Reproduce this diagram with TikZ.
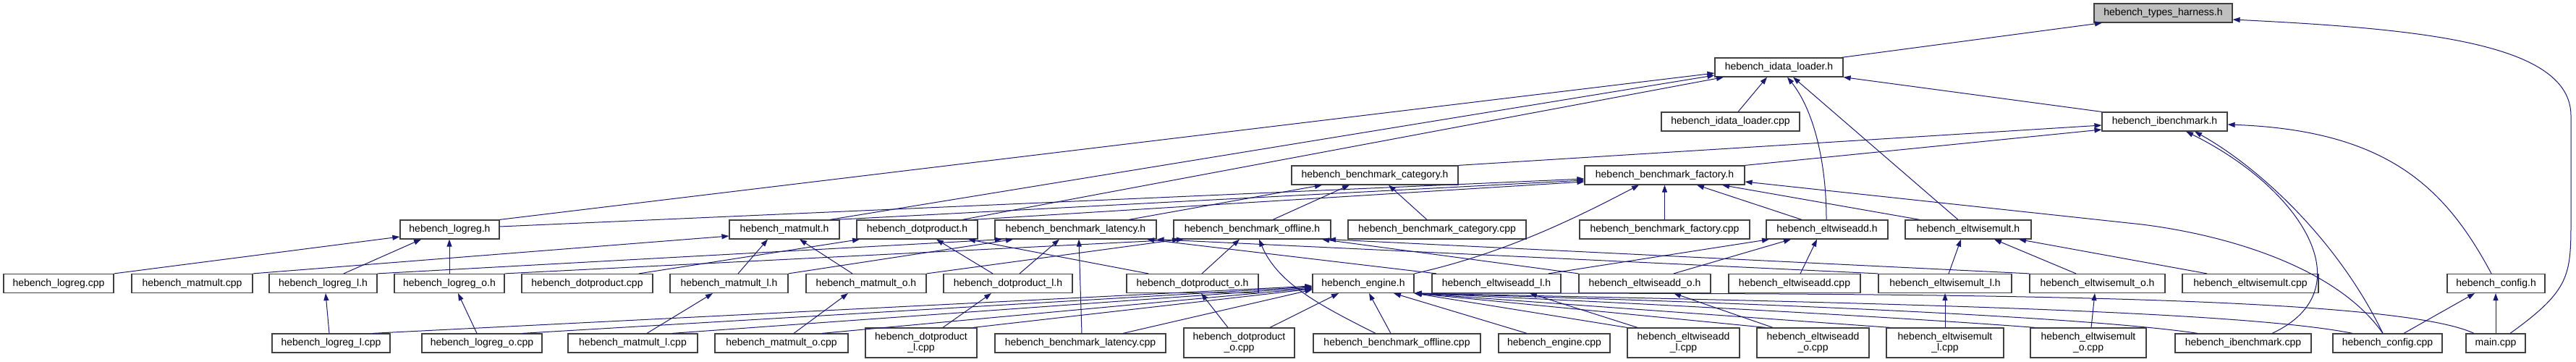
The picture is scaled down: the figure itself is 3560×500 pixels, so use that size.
\documentclass[tikz,border=0pt]{standalone}
\usepackage{fontspec}
\setmainfont{Liberation Sans}
\usetikzlibrary{arrows.meta}
\definecolor{edgeblue}{HTML}{191970}
\definecolor{rootgray}{HTML}{BFBFBF}
\begin{document}
\begin{tikzpicture}[x=1pt,y=-1pt,
  box/.style={draw=black!75,line width=1.2pt,fill=white,inner sep=0pt,minimum height=26pt,
    font=\fontsize{14}{15.5}\selectfont,text=black,align=center},
  box2/.style={box,minimum height=41pt},
  root/.style={box,fill=rootgray},
  edge/.style={draw=edgeblue,line width=1pt,-{Triangle[length=10pt,width=7pt]}}]
\fill[white] (0,0) rectangle (3560,500);
\useasboundingbox (0,0) rectangle (3560,500);
% row 0-3
\node[root,minimum width=191pt] (types) at (2989.5,18) {hebench\_types\_harness.h};
\node[box,minimum width=177pt] (idlh) at (2458.5,93) {hebench\_idata\_loader.h};
\node[box,minimum width=191pt] (idlcpp) at (2391.5,168) {hebench\_idata\_loader.cpp};
\node[box,minimum width=173pt] (ibmh) at (2991.5,168) {hebench\_ibenchmark.h};
\node[box,minimum width=230pt] (cath) at (1900,242) {hebench\_benchmark\_category.h};
\node[box,minimum width=221pt] (fach) at (2300.5,242) {hebench\_benchmark\_factory.h};
% row 4
\node[box,minimum width=137pt] (logregh) at (621.5,317) {hebench\_logreg.h};
\node[box,minimum width=152pt] (matmulth) at (1084,317) {hebench\_matmult.h};
\node[box,minimum width=167pt] (doth) at (1267.5,317) {hebench\_dotproduct.h};
\node[box,minimum width=223pt] (lath) at (1486.5,317) {hebench\_benchmark\_latency.h};
\node[box,minimum width=217pt] (offh) at (1730.5,317) {hebench\_benchmark\_offline.h};
\node[box,minimum width=246pt] (catcpp) at (1986,317) {hebench\_benchmark\_category.cpp};
\node[box,minimum width=235pt] (faccpp) at (2300.5,317) {hebench\_benchmark\_factory.cpp};
\node[box,minimum width=168pt] (eah) at (2525,317) {hebench\_eltwiseadd.h};
\node[box,minimum width=174pt] (emh) at (2720,317) {hebench\_eltwisemult.h};
% row 5
\node[box,minimum width=152pt] (logregcpp) at (81,391.5) {hebench\_logreg.cpp};
\node[box,minimum width=167pt] (matmultcpp) at (265.5,391.5) {hebench\_matmult.cpp};
\node[box,minimum width=149pt] (logreglh) at (446.5,391.5) {hebench\_logreg\_l.h};
\node[box,minimum width=152pt] (logregoh) at (621,391.5) {hebench\_logreg\_o.h};
\node[box,minimum width=181pt] (dotcpp) at (811.5,391.5) {hebench\_dotproduct.cpp};
\node[box,minimum width=163pt] (matmultlh) at (1007.5,391.5) {hebench\_matmult\_l.h};
\node[box,minimum width=166pt] (matmultoh) at (1197,391.5) {hebench\_matmult\_o.h};
\node[box,minimum width=178pt] (dotlh) at (1393,391.5) {hebench\_dotproduct\_l.h};
\node[box,minimum width=182pt] (dotoh) at (1648,391.5) {hebench\_dotproduct\_o.h};
\node[box,minimum width=140pt] (engh) at (1884,391.5) {hebench\_engine.h};
\node[box,minimum width=178pt] (ealh) at (2068,391.5) {hebench\_eltwiseadd\_l.h};
\node[box,minimum width=182pt] (eaoh) at (2273,391.5) {hebench\_eltwiseadd\_o.h};
\node[box,minimum width=182pt] (eacpp) at (2480,391.5) {hebench\_eltwiseadd.cpp};
\node[box,minimum width=184pt] (emlh) at (2688,391.5) {hebench\_eltwisemult\_l.h};
\node[box,minimum width=187pt] (emoh) at (2898.5,391.5) {hebench\_eltwisemult\_o.h};
\node[box,minimum width=188pt] (emcpp) at (3110,391.5) {hebench\_eltwisemult.cpp};
\node[box,minimum width=135pt] (configh) at (3449.5,391.5) {hebench\_config.h};
% row 6
\node[box,minimum width=163pt] (logreglcpp) at (457.5,474) {hebench\_logreg\_l.cpp};
\node[box,minimum width=166pt] (logregocpp) at (666,474) {hebench\_logreg\_o.cpp};
\node[box,minimum width=179pt] (matmultlcpp) at (874.5,474) {hebench\_matmult\_l.cpp};
\node[box,minimum width=184pt] (matmultocpp) at (1080,474) {hebench\_matmult\_o.cpp};
\node[box2,minimum width=154pt] (dotlcpp) at (1273,473.5) {hebench\_dotproduct\\\_l.cpp};
\node[box,minimum width=236pt] (latcpp) at (1493,474) {hebench\_benchmark\_latency.cpp};
\node[box2,minimum width=153pt] (dotocpp) at (1712.5,473.5) {hebench\_dotproduct\\\_o.cpp};
\node[box,minimum width=231pt] (offcpp) at (1930.5,474) {hebench\_benchmark\_offline.cpp};
\node[box,minimum width=154pt] (engcpp) at (2148,474) {hebench\_engine.cpp};
\node[box2,minimum width=155pt] (ealcpp) at (2326.5,473.5) {hebench\_eltwiseadd\\\_l.cpp};
\node[box2,minimum width=155pt] (eaocpp) at (2505.5,473.5) {hebench\_eltwiseadd\\\_o.cpp};
\node[box2,minimum width=162pt] (emlcpp) at (2688,473.5) {hebench\_eltwisemult\\\_l.cpp};
\node[box2,minimum width=160pt] (emocpp) at (2886,473.5) {hebench\_eltwisemult\\\_o.cpp};
\node[box,minimum width=188pt] (ibmcpp) at (3100,474) {hebench\_ibenchmark.cpp};
\node[box,minimum width=151pt] (configcpp) at (3299.5,474) {hebench\_config.cpp};
\node[box,minimum width=82pt] (maincpp) at (3449,474) {main.cpp};
% edges
\draw[edge] (idlh.north -| 2545,0) -- (types.south -| 2905,0);
\draw[edge] (maincpp.north -| 3469,0) .. controls (3553,400) and (3553,380) .. (3553,300) -- (3553,160) .. controls (3553,60) and (3350,40) .. (types.east |- 0,27);
\draw[edge] (idlcpp.north -| 2402,0) -- (idlh.south -| 2442,0);
\draw[edge] (ibmh.north west) -- (idlh.south east);
\draw[edge] (logregh.north east) -- (idlh.west |- 0,101);
\draw[edge] (matmulth.north -| 1147,0) -- (idlh.west |- 0,104);
\draw[edge] (doth.north -| 1330,0) -- (idlh.south -| 2382,0);
\draw[edge] (eah.north -| 2524,0) .. controls (2524,220) and (2505,150) .. (idlh.south -| 2470,0);
\draw[edge] (emh.north -| 2706,0) -- (idlh.south -| 2478,0);
\draw[edge] (fach.north east) -- (ibmh.west |- 0,179);
\draw[edge] (cath.north east) -- (ibmh.west |- 0,173);
\draw[edge] (faccpp.north) -- (fach.south);
\draw[edge] (engh.north east) .. controls (2080,350) and (2180,300) .. (fach.south -| 2265,0);
\draw[edge] (eah.north -| 2490,0) -- (fach.south -| 2345,0);
\draw[edge] (emh.north -| 2653,0) -- (fach.south -| 2380,0);
\draw[edge] (configcpp.north -| 3293,0) .. controls (3230,370) and (3080,325) .. (2960,310) -- (fach.east |- 0,251);
\draw[edge] (logregh.east |- 0,313) -- (fach.west |- 0,247);
\draw[edge] (matmulth.north -| 1155,0) -- (fach.west |- 0,249);
\draw[edge] (doth.north -| 1345,0) -- (fach.west |- 0,251);
\draw[edge] (lath.north -| 1560,0) -- (cath.south -| 1827,0);
\draw[edge] (offh.north -| 1759,0) -- (cath.south -| 1865,0);
\draw[edge] (catcpp.north -| 1972,0) -- (cath.south -| 1919,0);
\draw[edge] (configh.north -| 3443,0) .. controls (3380,260) and (3300,180) .. (ibmh.east |- 0,172);
\draw[edge] (ibmcpp.north -| 3140,0) .. controls (3270,400) and (3180,260) .. (ibmh.south -| 3021,0);
\draw[edge] (configcpp.north -| 3293,0) .. controls (3230,330) and (3120,230) .. (ibmh.south -| 3033,0);
\draw[edge] (configcpp.north -| 3322,0) -- (configh.south -| 3420,0);
\draw[edge] (maincpp.north -| 3449,0) -- (configh.south -| 3449,0);
\draw[edge] (maincpp.north -| 3419,0) .. controls (3300,405) and (2600,405) .. (engh.south east);
\draw[edge] (configcpp.north -| 3251,0) .. controls (3100,430) and (2600,418) .. (engh.south east);
\draw[edge] (ibmcpp.north -| 3037,0) .. controls (2900,440) and (2500,420) .. (engh.south east);
\draw[edge] (emocpp.north -| 2812,0) .. controls (2650,440) and (2300,420) .. (engh.south east);
\draw[edge] (emlcpp.north -| 2612,0) -- (engh.south east);
\draw[edge] (eaocpp.north -| 2440,0) -- (engh.south east);
\draw[edge] (ealcpp.north west) -- (engh.south east);
\draw[edge] (engcpp.north -| 2110,0) -- (engh.south -| 1926,0);
\draw[edge] (offcpp.north -| 1922,0) -- (engh.south -| 1892,0);
\draw[edge] (dotocpp.north -| 1755,0) -- (engh.south -| 1850,0);
\draw[edge] (latcpp.north -| 1552,0) -- (engh.west |- 0,400);
\draw[edge] (dotlcpp.north -| 1345,0) -- (engh.west |- 0,399);
\draw[edge] (matmultocpp.north -| 1136,0) -- (engh.west |- 0,398);
\draw[edge] (matmultlcpp.north -| 929,0) -- (engh.west |- 0,397);
\draw[edge] (logregocpp.north -| 722,0) -- (engh.west |- 0,396);
\draw[edge] (logreglcpp.north -| 515,0) -- (engh.west |- 0,395);
\draw[edge] (offcpp.north -| 1901,0) .. controls (1820,420) and (1765,390) .. (offh.south -| 1740,0);
\draw[edge] (dotoh.north -| 1661,0) -- (offh.south -| 1713,0);
\draw[edge] (dotoh.north -| 1587,0) -- (doth.south -| 1338,0);
\draw[edge] (dotlh.north -| 1372,0) -- (doth.south -| 1294,0);
\draw[edge] (dotlh.north -| 1409,0) -- (lath.south -| 1464,0);
\draw[edge] (latcpp.north -| 1495,0) -- (lath.south -| 1491,0);
\draw[edge] (logreglh.north east) -- (lath.south -| 1385,0);
\draw[edge] (matmultlh.north east) -- (lath.south -| 1400,0);
\draw[edge] (ealh.north -| 1985,0) -- (lath.south -| 1585,0);
\draw[edge] (emlh.north west) -- (lath.south east);
\draw[edge] (logregoh.north east) -- (offh.south -| 1636,0);
\draw[edge] (matmultoh.north east) -- (offh.south -| 1630,0);
\draw[edge] (eaoh.north west) -- (offh.south -| 1827,0);
\draw[edge] (emoh.north west) -- (offh.south -| 1836,0);
\draw[edge] (matmultlh.north -| 1020,0) -- (matmulth.south -| 1061,0);
\draw[edge] (matmultoh.north -| 1178,0) -- (matmulth.south -| 1105,0);
\draw[edge] (matmultcpp.north east) -- (matmulth.west |- 0,326);
\draw[edge] (logreglh.north -| 475,0) -- (logregh.south -| 582,0);
\draw[edge] (logregoh.north) -- (logregh.south -| 621,0);
\draw[edge] (logregcpp.north east) -- (logregh.west |- 0,327);
\draw[edge] (dotcpp.north -| 883,0) -- (doth.south -| 1188,0);
\draw[edge] (logreglcpp.north -| 455,0) -- (logreglh.south -| 450,0);
\draw[edge] (logregocpp.north -| 659,0) -- (logregoh.south -| 633,0);
\draw[edge] (matmultlcpp.north -| 894,0) -- (matmultlh.south -| 985,0);
\draw[edge] (matmultocpp.north -| 1097,0) -- (matmultoh.south -| 1172,0);
\draw[edge] (dotlcpp.north -| 1303,0) -- (dotlh.south -| 1370,0);
\draw[edge] (dotocpp.north -| 1697,0) -- (dotoh.south -| 1660,0);
\draw[edge] (ealcpp.north -| 2263,0) -- (ealh.south -| 2114,0);
\draw[edge] (eaocpp.north -| 2450,0) -- (eaoh.south -| 2313,0);
\draw[edge] (emlcpp.north) -- (emlh.south);
\draw[edge] (emocpp.north -| 2890,0) -- (emoh.south -| 2895,0);
\draw[edge] (eacpp.north -| 2488,0) -- (eah.south -| 2511,0);
\draw[edge] (ealh.north -| 2140,0) -- (eah.south -| 2445,0);
\draw[edge] (eaoh.north -| 2313,0) -- (eah.south -| 2475,0);
\draw[edge] (emlh.north -| 2693,0) -- (emh.south -| 2710,0);
\draw[edge] (emoh.north -| 2869,0) -- (emh.south -| 2756,0);
\draw[edge] (emcpp.north -| 3050,0) -- (emh.south -| 2790,0);
\end{tikzpicture}
\end{document}
